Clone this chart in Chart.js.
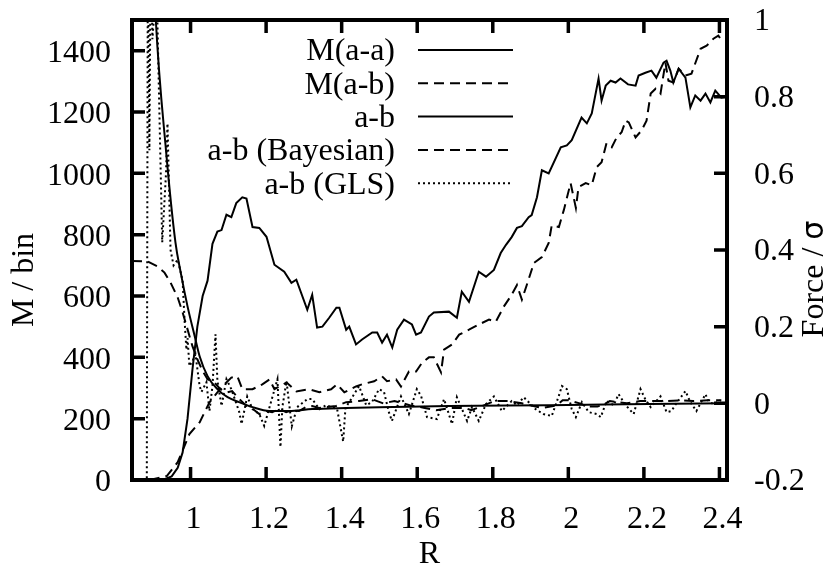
<!DOCTYPE html>
<html lang="en">
<head>
  <meta charset="UTF-8" />
  <title>M / bin and Force vs R</title>
  <script src="https://cdn.jsdelivr.net/npm/chart.js"></script>
  <style>
    html, body { margin: 0; padding: 0; background: #fff; }
    canvas { display: block; }
  </style>
</head>
<body>
  <canvas id="chart" width="836" height="582"></canvas>

  <script>
    // axis ticks
    const xTicks = [1, 1.2, 1.4, 1.6, 1.8, 2, 2.2, 2.4];
    const mTicks = [0, 200, 400, 600, 800, 1000, 1200, 1400];
    const fTicks = [-0.2, 0, 0.2, 0.4, 0.6, 0.8, 1];

    // M(a-a), left axis
    const rAA = [0.892, 0.931, 0.950, 0.966, 0.979, 0.992, 1.005, 1.018, 1.032, 1.045,
      1.058, 1.071, 1.082, 1.095, 1.108, 1.121, 1.137, 1.148, 1.164, 1.182,
      1.201, 1.222, 1.248, 1.267, 1.280, 1.309, 1.322, 1.335, 1.349, 1.367,
      1.386, 1.394, 1.412, 1.420, 1.438, 1.454, 1.481, 1.494, 1.507, 1.520,
      1.534, 1.547, 1.565, 1.586, 1.597, 1.610, 1.631, 1.644, 1.684, 1.705,
      1.718, 1.737, 1.763, 1.782, 1.803, 1.821, 1.835, 1.850, 1.864, 1.877,
      1.895, 1.903, 1.917, 1.930, 1.948, 1.980, 1.996, 2.009, 2.035, 2.049,
      2.062, 2.080, 2.088, 2.099, 2.112, 2.125, 2.138, 2.158, 2.178, 2.186,
      2.204, 2.220, 2.233, 2.252, 2.260, 2.270, 2.278, 2.292, 2.310, 2.323,
      2.336, 2.350, 2.363, 2.376, 2.389, 2.405, 2.418];
    const mAA = [0, 3, 12, 40, 90, 200, 360, 500, 600, 650,
      770, 810, 815, 865, 857, 903, 922, 918, 825, 822,
      793, 702, 679, 643, 653, 555, 604, 497, 500, 529,
      562, 562, 490, 500, 442, 458, 481, 481, 448, 474,
      432, 490, 523, 507, 474, 481, 533, 546, 549, 529,
      614, 581, 679, 663, 685, 740, 767, 792, 822, 828,
      857, 864, 922, 1010, 1000, 1085, 1091, 1108, 1182, 1163,
      1195, 1309, 1237, 1286, 1302, 1296, 1309, 1290, 1286, 1319,
      1328, 1335, 1312, 1361, 1367, 1335, 1296, 1341, 1312, 1215,
      1254, 1237, 1260, 1231, 1270, 1247, 1250];

    // M(a-b), left axis
    const rAB = [0.892, 0.937, 0.966, 0.997, 1.024, 1.050, 1.071, 1.090, 1.108, 1.124,
      1.137, 1.164, 1.190, 1.209, 1.222, 1.254, 1.280, 1.314, 1.341, 1.372,
      1.388, 1.407, 1.438, 1.454, 1.486, 1.507, 1.520, 1.544, 1.557, 1.578,
      1.597, 1.613, 1.631, 1.644, 1.663, 1.671, 1.692, 1.711, 1.737, 1.763,
      1.790, 1.808, 1.829, 1.850, 1.864, 1.877, 1.890, 1.909, 1.930, 1.948,
      1.956, 1.975, 1.988, 2.006, 2.020, 2.027, 2.046, 2.062, 2.075, 2.088,
      2.101, 2.115, 2.128, 2.141, 2.152, 2.160, 2.178, 2.194, 2.207, 2.218,
      2.231, 2.244, 2.257, 2.265, 2.278, 2.292, 2.310, 2.326, 2.350, 2.366,
      2.384, 2.397, 2.410];
    const mAB = [0, 13, 58, 150, 188, 253, 286, 312, 334, 338,
      296, 296, 312, 328, 296, 318, 289, 296, 286, 296,
      312, 286, 305, 312, 322, 338, 322, 328, 305, 354,
      354, 383, 400, 400, 351, 425, 442, 474, 490, 507,
      523, 516, 565, 604, 636, 588, 636, 708, 727, 773,
      830, 825, 880, 968, 887, 955, 968, 961, 1020, 1036,
      1098, 1085, 1117, 1134, 1172, 1166, 1117, 1140, 1172, 1260,
      1276, 1260, 1361, 1302, 1296, 1341, 1319, 1325, 1406, 1416,
      1439, 1449, 1426];

    // a-b force, right axis
    const rF = [0.903, 0.908, 0.935, 0.960, 0.974, 0.992, 1.011, 1.024, 1.045, 1.071,
      1.098, 1.129, 1.164, 1.209, 1.26, 1.322, 1.412, 1.499, 1.684, 1.948,
      2.212, 2.418];
    const fAB = [1.12, 1.0, 0.66, 0.42, 0.341, 0.253, 0.175, 0.123, 0.071, 0.037,
      0.016, 0.003, -0.01, -0.02, -0.02, -0.015, -0.012, -0.01, -0.007, -0.005,
      -0.002, 0.0];

    // a-b (Bayesian), right axis
    const rBay = [0.845, 0.886, 0.913, 0.931, 0.947, 0.966, 0.979, 0.992, 1.005, 1.018,
      1.032, 1.045, 1.063, 1.079, 1.098, 1.11, 1.13, 1.148, 1.165, 1.182,
      1.2, 1.216, 1.235, 1.253, 1.27, 1.287, 1.305, 1.322, 1.34, 1.359,
      1.385, 1.412, 1.446, 1.480, 1.51, 1.54, 1.58, 1.62, 1.65, 1.69,
      1.727, 1.743, 1.77, 1.805, 1.84, 1.877, 1.913, 1.93, 1.97, 1.985,
      2.0, 2.03, 2.05, 2.077, 2.09, 2.11, 2.155, 2.19, 2.225, 2.26,
      2.297, 2.33, 2.37, 2.405];
    const fBay = [0.371, 0.37, 0.357, 0.341, 0.315, 0.276, 0.237, 0.193, 0.149, 0.115,
      0.084, 0.063, 0.055, 0.037, 0.029, 0.032, 0.01, -0.007, -0.015, -0.028,
      -0.02, -0.023, -0.015, -0.023, -0.018, -0.02, -0.01, -0.007, -0.012, -0.01,
      -0.007, 0.003, 0.006, 0.011, 0.0, 0.006, -0.005, -0.012, -0.018, -0.012,
      -0.012, -0.018, -0.008, 0.006, 0.006, 0.0, -0.008, -0.012, -0.005, 0.008,
      0.008, 0.0, -0.008, -0.008, -0.005, 0.006, 0.0, 0.006, 0.006, 0.006,
      0.008, 0.006, 0.008, 0.008];

    // a-b (GLS), right axis
    const rGLS = [0.884, 0.887, 0.891, 0.895, 0.899, 0.91, 0.925, 0.935, 0.939, 0.947,
      0.955, 0.966, 0.979, 0.984, 0.989, 0.992, 0.997, 1.005, 1.013, 1.024,
      1.029, 1.042, 1.050, 1.058, 1.066, 1.071, 1.082, 1.095, 1.108, 1.129,
      1.135, 1.150, 1.164, 1.182, 1.195, 1.209, 1.230, 1.238, 1.243, 1.254,
      1.268, 1.282, 1.309, 1.322, 1.341, 1.359, 1.388, 1.404, 1.41, 1.425,
      1.446, 1.465, 1.48, 1.499, 1.512, 1.525, 1.533, 1.557, 1.578, 1.599,
      1.61, 1.626, 1.652, 1.671, 1.692, 1.705, 1.732, 1.745, 1.763, 1.782,
      1.803, 1.824, 1.85, 1.864, 1.882, 1.913, 1.934, 1.956, 1.975, 1.983,
      1.996, 2.009, 2.02, 2.036, 2.054, 2.075, 2.086, 2.101, 2.12, 2.133,
      2.152, 2.173, 2.191, 2.204, 2.218, 2.244, 2.26, 2.273, 2.286, 2.31,
      2.323, 2.339, 2.363, 2.371, 2.384, 2.403];
    const fGLS = [-0.3, 1.25, 0.66, 1.25, 0.95, 1.1, 0.42, 0.6, 0.73, 0.40,
      0.36, 0.375, 0.32, 0.22, 0.14, 0.17, 0.097, 0.11, 0.128, 0.045,
      0.03, 0.055, -0.02, 0.045, 0.18, 0.06, -0.007, 0.063, 0.037, -0.023,
      -0.054, 0.018, -0.015, -0.028, -0.059, -0.01, 0.063, -0.114, -0.01, 0.058,
      -0.06, -0.01, 0.011, 0.011, -0.015, -0.005, -0.015, -0.1, -0.012, 0.011,
      0.045, -0.005, 0.003, 0.037, 0.03, -0.023, -0.046, 0.018, -0.028, 0.037,
      0.02, -0.036, -0.041, 0.011, -0.054, 0.016, -0.046, -0.01, -0.046, -0.002,
      0.018, -0.02, 0.006, -0.005, 0.016, -0.015, -0.028, -0.033, 0.02, 0.045,
      0.037, -0.015, -0.036, 0.003, -0.023, -0.028, -0.036, 0.006, -0.005, 0.024,
      -0.005, -0.028, 0.037, 0.01, -0.01, 0.018, -0.023, -0.02, 0.0, 0.032,
      0.003, -0.02, 0.024, 0.005, -0.002, 0.008];

    const pts = (xs, ys) => xs.map((x, i) => ({ x, y: ys[i] }));

    const FONT = '"Liberation Serif", "Times New Roman", serif';
    Chart.defaults.font.family = FONT;
    Chart.defaults.font.size = 32;
    Chart.defaults.color = '#000';

    // gnuplot look: thick frame, inward ticks, key inside the plot, rotated axis labels
    const gnuplotFrame = {
      id: 'gnuplotFrame',
      afterDatasetsDraw(chart) {
        const { ctx, chartArea: a, scales } = chart;
        const tickLen = 13;
        ctx.save();
        ctx.strokeStyle = '#000';
        ctx.fillStyle = '#000';

        ctx.lineWidth = 3.5;
        ctx.beginPath();
        xTicks.forEach(v => {
          const px = scales.x.getPixelForValue(v);
          ctx.moveTo(px, a.bottom); ctx.lineTo(px, a.bottom - tickLen);
          ctx.moveTo(px, a.top); ctx.lineTo(px, a.top + tickLen);
        });
        mTicks.forEach(v => {
          const py = scales.yM.getPixelForValue(v);
          ctx.moveTo(a.left, py); ctx.lineTo(a.left + tickLen, py);
        });
        fTicks.forEach(v => {
          const py = scales.yF.getPixelForValue(v);
          ctx.moveTo(a.right, py); ctx.lineTo(a.right - tickLen, py);
        });
        ctx.stroke();

        ctx.lineWidth = 4;
        ctx.strokeRect(a.left, a.top, a.right - a.left, a.bottom - a.top);

        // key
        ctx.font = '32px ' + FONT;
        ctx.textAlign = 'right';
        ctx.textBaseline = 'middle';
        chart.data.datasets.forEach((ds, i) => {
          const y = a.top + 30 + i * 33.3;
          ctx.fillText(ds.label, a.left + 263, y + 2);
          ctx.lineWidth = ds.borderWidth;
          ctx.setLineDash(ds.borderDash || []);
          ctx.beginPath();
          ctx.moveTo(a.left + 286, y);
          ctx.lineTo(a.left + 381, y);
          ctx.stroke();
        });
        ctx.setLineDash([]);

        // left axis title, reads bottom to top
        ctx.textAlign = 'center';
        ctx.save();
        ctx.translate(25, 280);
        ctx.rotate(-Math.PI / 2);
        ctx.fillText('M / bin', 0, 0);
        ctx.restore();

        // right axis title, sigma set in a sans face like the symbol font
        const serif = '32px ' + FONT;
        const sym = '30px "DejaVu Sans", sans-serif';
        ctx.font = serif;
        const w1 = ctx.measureText('Force / ').width;
        ctx.font = sym;
        const w2 = ctx.measureText('\u03c3').width;
        ctx.save();
        ctx.translate(815, 279);
        ctx.rotate(-Math.PI / 2);
        ctx.textAlign = 'left';
        ctx.font = serif;
        ctx.fillText('Force / ', -(w1 + w2) / 2, 0);
        ctx.font = sym;
        ctx.fillText('\u03c3', -(w1 + w2) / 2 + w1, 0);
        ctx.restore();

        ctx.restore();
      }
    };

    const line = (label, data, axis, extra) => Object.assign({
      label, data, yAxisID: axis,
      borderColor: '#000', borderWidth: 2,
      pointRadius: 0, tension: 0, fill: false, clip: 0
    }, extra);

    // fixed plot box: left 132, right 727, top 20, bottom 480
    const fixX = s => { s.height = 102; s.paddingLeft = 0; s.paddingRight = 0; };
    const fixY = w => s => { s.width = w; s.paddingTop = 0; s.paddingBottom = 0; };

    new Chart(document.getElementById('chart'), {
      type: 'line',
      data: {
        datasets: [
          line('M(a-a)', pts(rAA, mAA), 'yM'),
          line('M(a-b)', pts(rAB, mAB), 'yM', { borderDash: [10, 6] }),
          line('a-b', pts(rF, fAB), 'yF', { cubicInterpolationMode: 'monotone' }),
          line('a-b (Bayesian)', pts(rBay, fBay), 'yF', { borderDash: [10, 6] }),
          line('a-b (GLS)', pts(rGLS, fGLS), 'yF', { borderDash: [2, 3] })
        ]
      },
      options: {
        responsive: false,
        animation: false,
        layout: { padding: { top: 20 } },
        plugins: {
          legend: { display: false },
          tooltip: { enabled: false }
        },
        scales: {
          x: {
            type: 'linear',
            min: 0.845,
            max: 2.42,
            afterBuildTicks: s => { s.ticks = xTicks.map(v => ({ value: v })); },
            afterFit: fixX,
            grid: { display: false, drawTicks: false },
            border: { display: false },
            ticks: { padding: 20, labelOffset: 3, callback: v => String(v) },
            title: { display: true, text: 'R', padding: { top: 0, bottom: 8 } }
          },
          yM: {
            type: 'linear',
            position: 'left',
            min: 0,
            max: 1500,
            afterBuildTicks: s => { s.ticks = mTicks.map(v => ({ value: v })); },
            afterFit: fixY(132),
            grid: { display: false, drawTicks: false },
            border: { display: false },
            ticks: { padding: 21, labelOffset: 3, callback: v => String(v) }
          },
          yF: {
            type: 'linear',
            position: 'right',
            min: -0.2,
            max: 1,
            afterBuildTicks: s => { s.ticks = fTicks.map(v => ({ value: v })); },
            afterFit: fixY(109),
            grid: { display: false, drawTicks: false },
            border: { display: false },
            ticks: { padding: 27, labelOffset: 2, callback: v => String(v) }
          }
        }
      },
      plugins: [gnuplotFrame]
    });
  </script>
</body>
</html>
